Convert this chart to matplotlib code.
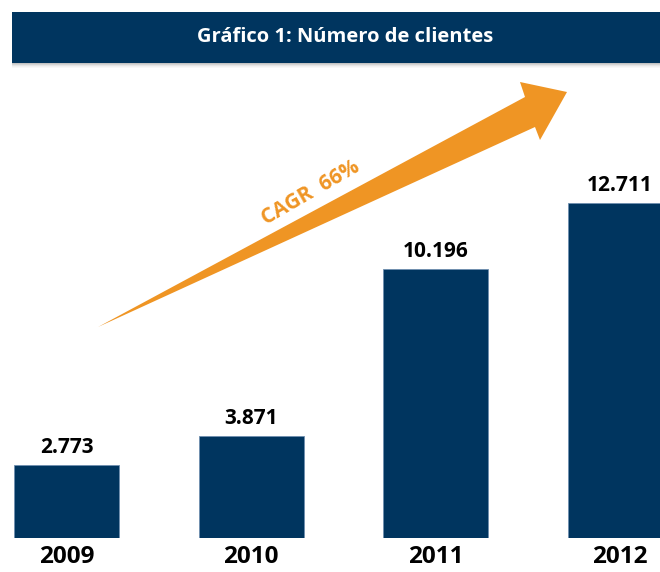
import matplotlib.pyplot as plt
from matplotlib.patches import Rectangle, Polygon

# Data
years = ["2009", "2010", "2011", "2012"]
clientes = [2773, 3871, 10196, 12711]
value_labels = ["2.773", "3.871", "10.196", "12.711"]
title = "Gráfico 1: Número de clientes"
cagr_label = "CAGR 66%"

NAVY = "#00355F"
ORANGE = "#EF9524"
W, H = 660, 572

plt.rcParams["font.family"] = ["Open Sans", "DejaVu Sans"]

fig = plt.figure(figsize=(W / 100, H / 100), dpi=100)


def fx(x):
    return x / W


def fy(y):
    return 1 - y / H


# Bars axes: bottom of bars at pixel 538, 26.35 px per 1000 clients
bottom_px, top_px = 538, 70
px_per_unit = 0.02635
ax = fig.add_axes([0, fy(bottom_px), 1, (bottom_px - top_px) / H])
ax.set_ylim(0, (bottom_px - top_px) / px_per_unit)
step = 184.5
ax.set_xlim(-66.5 / step, (W - 66.5) / step)

x = list(range(len(years)))
ax.bar(x, clientes, width=105 / step, color=NAVY, edgecolor="#6f8fb0", linewidth=0.6)

for xi, v, lab in zip(x, clientes, value_labels):
    ax.annotate(lab, (xi, v), xytext=(0, 5), textcoords="offset points",
                ha="center", va="bottom", fontsize=15, fontweight="bold", color="black")

ax.set_xticks(x)
ax.set_xticklabels(years, fontsize=17.5, fontweight="bold")
ax.tick_params(axis="x", length=0, pad=5)
ax.set_yticks([])
for s in ax.spines.values():
    s.set_visible(False)
ax.patch.set_alpha(0)

# Title bar with soft shadow
for i, a in enumerate([0.35, 0.25, 0.15, 0.08, 0.04]):
    fig.patches.append(Rectangle((fx(12), fy(64 + i)), 1, 1 / H, transform=fig.transFigure,
                                 color="#555555", alpha=a, lw=0))
fig.patches.append(Rectangle((fx(12), fy(63)), 1, 51 / H, transform=fig.transFigure,
                             color=NAVY, lw=0))
fig.text(fx(345), fy(37), title, ha="center", va="center", color="white",
         fontsize=14.5, fontweight="bold")

# Tapered CAGR arrow
arrow_pts = [(98, 327), (525, 97), (520, 82), (567, 92), (540, 140), (535, 127)]
fig.patches.append(Polygon([(fx(a), fy(b)) for a, b in arrow_pts], closed=True,
                           transform=fig.transFigure, color=ORANGE, lw=0))
fig.text(fx(311), fy(193), cagr_label.replace(" ", "  "), ha="center", va="center",
         rotation=30, rotation_mode="anchor", color=ORANGE, fontsize=15, fontweight="bold")

fig.savefig("out.png", dpi=100)
